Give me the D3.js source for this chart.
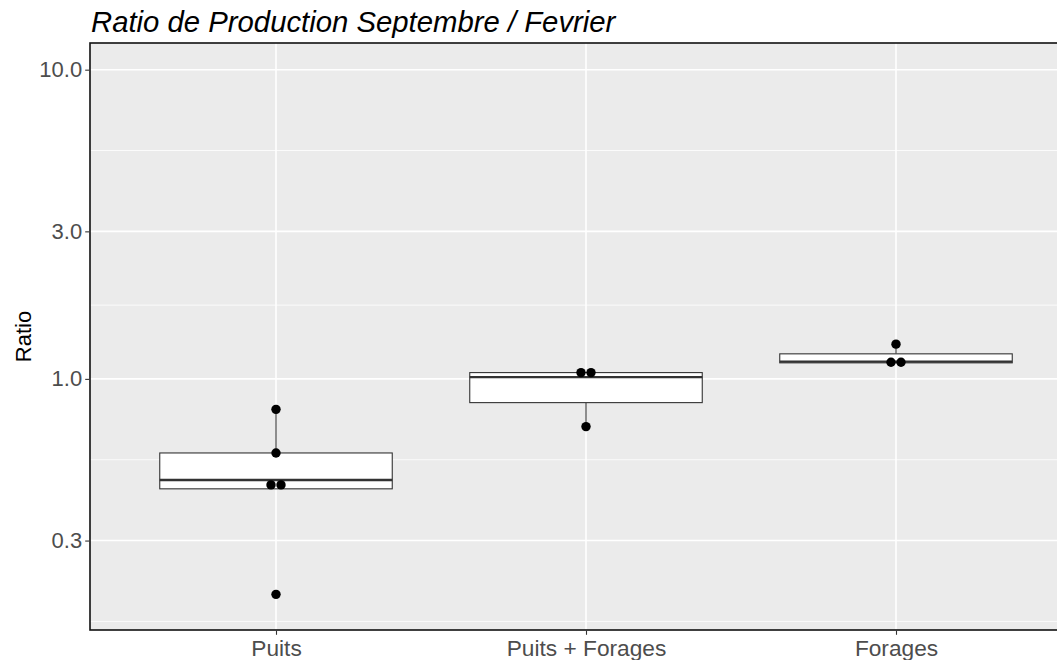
<!DOCTYPE html>
<html>
<head>
<meta charset="utf-8">
<script src="https://cdn.jsdelivr.net/npm/d3@7"></script>
<style>
  body { margin: 0; background: #fff; }
  svg { display: block; font-family: "Liberation Sans", Arial, sans-serif; }
</style>
</head>
<body>
<svg id="chart" width="1057" height="660"></svg>
<script>
// categories and box stats
var categories = ["Puits", "Puits + Forages", "Forages"];
var whiskerLow = [0.441, 0.701, 1.127];
var q1 = [0.441, 0.838, 1.127];
var median = [0.471, 1.013, 1.137];
var q3 = [0.576, 1.048, 1.205];
var whiskerHigh = [0.797, 1.048, 1.295];

// individual ratios per group
var pointsPuits = [0.797, 0.576, 0.454, 0.454, 0.201];
var pointsMixed = [1.048, 1.048, 0.701];
var pointsForages = [1.295, 1.132, 1.132];
var pointGroups = [pointsPuits, pointsMixed, pointsForages];

var yBreaks = [0.3, 1, 3, 10];
var yTickLabels = ["0.3", "1.0", "3.0", "10.0"];
var yLimits = [0.188, 10];

var title = "Ratio de Production Septembre / Fevrier";
var yTitle = "Ratio";

// layout
var panel = { left: 90, top: 43, right: 1082, bottom: 630 };

var svg = d3.select("#chart");

// log y scale with ggplot-like 5% expansion in log space
var lmin = Math.log10(yLimits[0]), lmax = Math.log10(yLimits[1]);
var ex = (lmax - lmin) * 0.05;
var y = d3.scaleLog()
  .domain([Math.pow(10, lmin - ex), Math.pow(10, lmax + ex)])
  .range([panel.bottom, panel.top]);

var x = d3.scalePoint()
  .domain(categories)
  .range([panel.left, panel.right])
  .padding(0.6);
var step = x.step();

// minor breaks: midway between majors in log space (extended one step below)
var lb = yBreaks.map(b => Math.log10(b));
var ext = [lb[0] - (lb[1] - lb[0])].concat(lb);
var minor = [];
for (var i = 0; i < ext.length - 1; i++) minor.push(Math.pow(10, (ext[i] + ext[i + 1]) / 2));
minor = minor.filter(v => v > y.domain()[0] && v < y.domain()[1]);

svg.append("clipPath").attr("id", "pclip")
  .append("rect")
  .attr("x", panel.left).attr("y", panel.top)
  .attr("width", panel.right - panel.left).attr("height", panel.bottom - panel.top);

var g = svg.append("g").attr("clip-path", "url(#pclip)");

g.append("rect")
  .attr("x", panel.left).attr("y", panel.top)
  .attr("width", panel.right - panel.left).attr("height", panel.bottom - panel.top)
  .attr("fill", "#EBEBEB");

g.selectAll("line.minor").data(minor).enter().append("line")
  .attr("class", "minor")
  .attr("x1", panel.left).attr("x2", panel.right)
  .attr("y1", d => y(d)).attr("y2", d => y(d))
  .attr("stroke", "#fff").attr("stroke-width", 0.8);

g.selectAll("line.major").data(yBreaks).enter().append("line")
  .attr("class", "major")
  .attr("x1", panel.left).attr("x2", panel.right)
  .attr("y1", d => y(d)).attr("y2", d => y(d))
  .attr("stroke", "#fff").attr("stroke-width", 1.6);

g.selectAll("line.vmajor").data(categories).enter().append("line")
  .attr("class", "vmajor")
  .attr("x1", d => x(d)).attr("x2", d => x(d))
  .attr("y1", panel.top).attr("y2", panel.bottom)
  .attr("stroke", "#fff").attr("stroke-width", 1.6);

// boxplots
var boxW = step * 0.75;
var boxes = g.selectAll("g.box").data(categories).enter().append("g").attr("class", "box");

boxes.append("line")
  .attr("x1", d => x(d)).attr("x2", d => x(d))
  .attr("y1", (d, i) => y(q3[i])).attr("y2", (d, i) => y(whiskerHigh[i]))
  .attr("stroke", "#333").attr("stroke-width", 1.1);
boxes.append("line")
  .attr("x1", d => x(d)).attr("x2", d => x(d))
  .attr("y1", (d, i) => y(q1[i])).attr("y2", (d, i) => y(whiskerLow[i]))
  .attr("stroke", "#333").attr("stroke-width", 1.1);
boxes.append("rect")
  .attr("x", d => x(d) - boxW / 2)
  .attr("y", (d, i) => y(q3[i]))
  .attr("width", boxW)
  .attr("height", (d, i) => y(q1[i]) - y(q3[i]))
  .attr("fill", "#fff").attr("stroke", "#333").attr("stroke-width", 1.1);
boxes.append("line")
  .attr("x1", d => x(d) - boxW / 2).attr("x2", d => x(d) + boxW / 2)
  .attr("y1", (d, i) => y(median[i])).attr("y2", (d, i) => y(median[i]))
  .attr("stroke", "#333").attr("stroke-width", 2.3);

// points: tied values are spread side by side
var pts = [];
pointGroups.forEach(function(arr, i) {
  var counts = {};
  arr.forEach(v => counts[v] = (counts[v] || 0) + 1);
  var seen = {};
  arr.forEach(function(v) {
    var k = seen[v] || 0; seen[v] = k + 1;
    var off = (k - (counts[v] - 1) / 2) * 10;
    pts.push({ cat: categories[i], v: v, off: off });
  });
});
g.selectAll("circle.pt").data(pts).enter().append("circle")
  .attr("class", "pt")
  .attr("cx", d => x(d.cat) + d.off)
  .attr("cy", d => y(d.v))
  .attr("r", 4.7)
  .attr("fill", "#000");

// panel border
svg.append("rect")
  .attr("x", panel.left).attr("y", panel.top)
  .attr("width", panel.right - panel.left).attr("height", panel.bottom - panel.top)
  .attr("fill", "none").attr("stroke", "#111").attr("stroke-width", 1.6);

// y axis
var yAxis = d3.axisLeft(y).tickValues(yBreaks)
  .tickFormat((d, i) => yTickLabels[i]).tickSize(4).tickPadding(3);
var ya = svg.append("g").attr("transform", "translate(" + (panel.left - 0.8) + ",0)").call(yAxis);
ya.select(".domain").remove();
ya.selectAll(".tick line").attr("stroke", "#333").attr("stroke-width", 1.1);
ya.selectAll(".tick text").attr("fill", "#4D4D4D").style("font-size", "22px")
  .style("font-family", "'Liberation Sans', Arial, sans-serif");

// x axis
var xAxis = d3.axisBottom(x).tickSize(4).tickPadding(5);
var xa = svg.append("g").attr("transform", "translate(0," + (panel.bottom + 0.8) + ")").call(xAxis);
xa.select(".domain").remove();
xa.selectAll(".tick line").attr("stroke", "#333").attr("stroke-width", 1.1);
xa.selectAll(".tick text").attr("fill", "#4D4D4D").style("font-size", "22.7px")
  .style("font-family", "'Liberation Sans', Arial, sans-serif");

// titles
svg.append("text")
  .attr("x", 91).attr("y", 32)
  .style("font-size", "29.3px").style("font-style", "italic")
  .attr("fill", "#000")
  .text(title);

svg.append("text")
  .attr("transform", "translate(31," + ((panel.top + panel.bottom) / 2) + ") rotate(-90)")
  .attr("text-anchor", "middle")
  .style("font-size", "22px")
  .attr("fill", "#000")
  .text(yTitle);
</script>
</body>
</html>
